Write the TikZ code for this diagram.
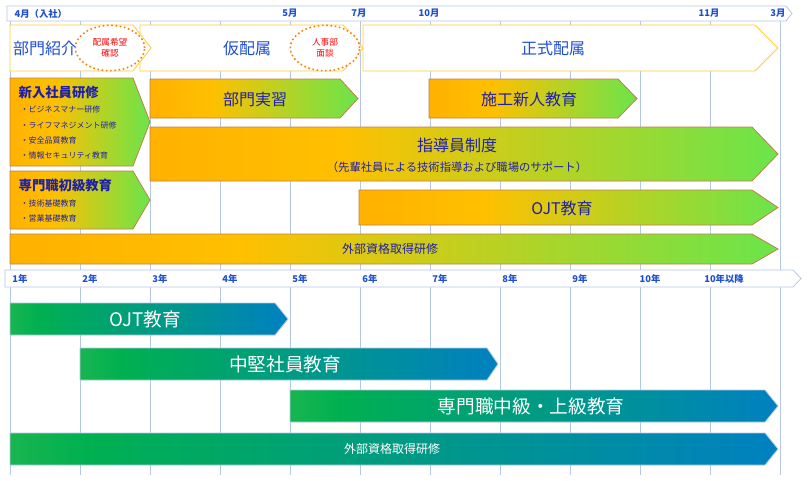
\documentclass[tikz,border=0pt]{standalone}
\usepackage{fontspec}
\setmainfont{Noto Sans CJK JP}
\usetikzlibrary{shapes.geometric}
\definecolor{gridc}{HTML}{B4C7E7}
\definecolor{ylw}{HTML}{FFC000}
\definecolor{org}{HTML}{FF9900}
\definecolor{grn}{HTML}{00FF80}
\definecolor{lg}{HTML}{92D050}
\definecolor{dg}{HTML}{00B050}
\definecolor{bl}{HTML}{0066FF}
\definecolor{txb}{HTML}{1F1FA8}
\definecolor{bdr}{HTML}{C0804A}
\definecolor{hdr}{HTML}{1F4FD0}
\pgfdeclarehorizontalshading{og}{100bp}{color(0bp)=(org); color(40bp)=(ylw); color(100bp)=(grn)}
\pgfdeclarehorizontalshading{bg}{100bp}{color(0bp)=(lg); color(30bp)=(dg); color(100bp)=(bl)}
\tikzset{
 obar/.style={shading=og, draw=bdr, line width=0.6pt},
 bbar/.style={shading=bg, draw=gridc, line width=0.6pt},
 wbar/.style={fill=white, draw=ylw!80, line width=0.6pt},
 otxt/.style={text=txb, font=\fontsize{12}{14}\selectfont},
 btxt/.style={text=white, font=\fontsize{14}{16}\selectfont},
 hd/.style={text=hdr, font=\bfseries\fontsize{7}{8}\selectfont},
 item/.style={text=txb, font=\fontsize{6}{7}\selectfont, anchor=west},
 dot/.style={draw=orange, dotted, line width=1.2pt, ellipse, minimum width=52pt, minimum height=34pt, text=red, font=\fontsize{6.5}{8}\selectfont, align=center, fill=white}
}
\newcommand{\chev}[6]{\path[#6] (#1,#4) -- (#2,#4) -- (#3,{(#4+#5)/2}) -- (#2,#5) -- (#1,#5) -- cycle;}
\begin{document}
\begin{tikzpicture}[x=0.75pt,y=-0.75pt]
\useasboundingbox (0,0) rectangle (808,480);
\fill[white] (0,0) rectangle (808,480);
\foreach \i in {0,...,11} \draw[gridc, line width=0.6pt] ({10+70*\i},20) -- ({10+70*\i},475);
% header
\path[fill=white, draw=gridc, line width=0.6pt] (7,6) -- (786,6) -- (792,13.5) -- (786,21) -- (7,21) -- cycle;
\node[hd, anchor=west] (m4) at (10,13.5) {4月（入社）};
\node[hd] (m5) at (290,13.5) {5月};
\node[hd] (m7) at (359,13.5) {7月};
\node[hd] (m10) at (429,13.5) {10月};
\node[hd] (m11) at (709,13.5) {11月};
\node[hd] (m3) at (778,13.5) {3月};
% row 1
\chev{363}{755}{778}{25}{71}{wbar}
\chev{140}{343}{363}{25}{71}{wbar}
\chev{10}{133}{151}{25}{71}{wbar}
\node[text=hdr, font=\fontsize{12}{14}\selectfont] (bm) at (45,48) {部門紹介};
\node[dot] (hk) at (110,48) {配属希望\\確認};
\node[text=hdr, font=\fontsize{12}{14}\selectfont] (kh) at (247,48) {仮配属};
\node[dot] (jb) at (325,48) {人事部\\面談};
\node[text=hdr, font=\fontsize{12}{14}\selectfont] (sh) at (553,48) {正式配属};
% orange bars
\chev{10}{133}{150}{78}{166}{obar}
\node[otxt, anchor=west, font=\bfseries\fontsize{10}{12}\selectfont] (sn) at (14,92) {新入社員研修};
\node[item] (s1) at (16,109) {・ビジネスマナー研修};
\node[item] (s2) at (16,125) {・ライフマネジメント研修};
\node[item] (s3) at (16,140) {・安全品質教育};
\node[item] (s4) at (16,155) {・情報セキュリティ教育};
\chev{10}{133}{150}{171}{229}{obar}
\node[otxt, anchor=west, font=\bfseries\fontsize{10}{12}\selectfont] (sk) at (14,185) {専門職初級教育};
\node[item] (k1) at (16,203) {・技術基礎教育};
\node[item] (k2) at (16,218) {・営業基礎教育};
\chev{150}{340}{358}{79}{118}{obar}
\node[otxt] (bj) at (255,99) {部門実習};
\chev{429}{618}{637}{79}{118}{obar}
\node[otxt] (sj) at (529,99) {施工新人教育};
\chev{150}{752}{778}{127}{181}{obar}
\node[otxt] (sd) at (457,145) {指導員制度};
\node[otxt, font=\fontsize{8.5}{10}\selectfont] (sd2) at (457,167) {（先輩社員による技術指導および職場のサポート）};
\chev{359}{752}{778}{190}{225}{obar}
\node[otxt] (ojt1) at (562,208) {OJT教育};
\chev{10}{752}{778}{234}{264}{obar}
\node[otxt, font=\fontsize{9}{11}\selectfont] (gs1) at (390,249) {外部資格取得研修};
% year axis
\path[fill=white, draw=gridc, line width=0.6pt] (5,270) -- (793,270) -- (801,278.5) -- (793,287) -- (5,287) -- cycle;
\foreach \i in {1,...,10} \node[hd] (y\i) at ({20+70*(\i-1)},279) {\i 年};
\node[hd] (y11) at (724,279) {10年以降};
% blue bars
\chev{10}{275}{288}{303}{335}{bbar}
\node[btxt] (ojt2) at (145,319) {OJT教育};
\chev{80}{487}{498}{348}{380}{bbar}
\node[btxt] (ck) at (285,364) {中堅社員教育};
\chev{290}{765}{778}{390}{422}{bbar}
\node[btxt] (sc) at (531,406) {専門職中級・上級教育};
\chev{10}{765}{778}{433}{465}{bbar}
\node[btxt, font=\fontsize{9}{11}\selectfont] (gs2) at (392,449) {外部資格取得研修};
\end{tikzpicture}
\end{document}
